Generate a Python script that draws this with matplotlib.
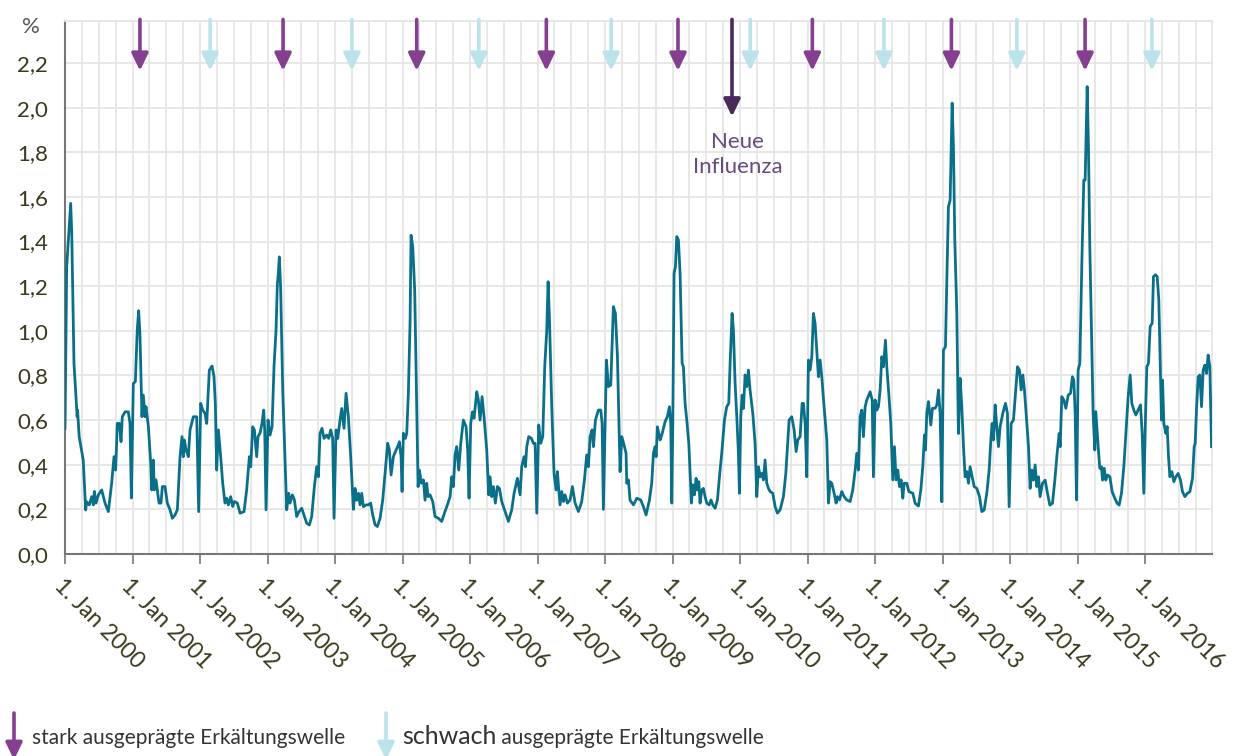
import matplotlib
matplotlib.use("Agg")
import matplotlib.pyplot as plt
from matplotlib.ticker import MultipleLocator, FixedLocator
import numpy as np

# ---------------- data (decimal years since 2000, share in %) ----------------
t_offset = [
    0.0, 0.025, 0.084, 0.10, 0.133, 0.173, 0.18, 0.186, 0.21, 0.27, 0.306, 0.321, 0.36, 0.395, 0.42, 0.435, 0.46, 0.494, 0.543, 0.593, 0.642, 0.691, 0.726, 0.75, 0.775, 0.805, 0.83, 0.849, 0.889, 0.938, 0.963, 0.983,
    1.012, 1.042, 1.07, 1.091, 1.11, 1.14, 1.16, 1.185, 1.2, 1.235, 1.27, 1.284, 1.309, 1.323, 1.348, 1.368, 1.393, 1.422, 1.442, 1.481, 1.516, 1.556, 1.59, 1.63, 1.664, 1.704, 1.733, 1.753, 1.768, 1.793, 1.827, 1.852, 1.901, 1.951, 1.98,
    2.01, 2.04, 2.074, 2.099, 2.138, 2.178, 2.207, 2.227, 2.247, 2.272, 2.306, 2.336, 2.37, 2.395, 2.42, 2.454, 2.484, 2.508, 2.553, 2.593, 2.652, 2.691, 2.731, 2.751, 2.78, 2.805, 2.839, 2.859, 2.889, 2.918, 2.943, 2.958, 2.978,
    3.007, 3.037, 3.067, 3.096, 3.126, 3.146, 3.16, 3.175, 3.195, 3.225, 3.254, 3.284, 3.314, 3.333, 3.368, 3.398, 3.432, 3.467, 3.506, 3.546, 3.58, 3.62, 3.654, 3.694, 3.728, 3.753, 3.778, 3.807, 3.837, 3.876, 3.906, 3.936, 3.965, 3.985,
    4.015, 4.04, 4.074, 4.099, 4.133, 4.163, 4.197, 4.232, 4.272, 4.296, 4.321, 4.346, 4.37, 4.395, 4.42, 4.459, 4.494, 4.528, 4.558, 4.593, 4.627, 4.667, 4.706, 4.741, 4.78, 4.805, 4.83, 4.864, 4.904, 4.938, 4.953, 4.978, 4.993,
    5.012, 5.042, 5.062, 5.086, 5.111, 5.126, 5.151, 5.18, 5.21, 5.23, 5.249, 5.279, 5.309, 5.333, 5.358, 5.378, 5.407, 5.447, 5.481, 5.531, 5.58, 5.62, 5.664, 5.704, 5.728, 5.753, 5.778, 5.802, 5.832, 5.862, 5.901, 5.941, 5.965, 5.985,
    6.01, 6.035, 6.059, 6.099, 6.123, 6.148, 6.178, 6.207, 6.247, 6.277, 6.296, 6.321, 6.346, 6.375, 6.405, 6.435, 6.469, 6.519, 6.568, 6.617, 6.652, 6.701, 6.741, 6.765, 6.8, 6.82, 6.84, 6.869, 6.909, 6.938, 6.963, 6.988,
    7.017, 7.047, 7.077, 7.106, 7.136, 7.156, 7.175, 7.21, 7.244, 7.274, 7.294, 7.314, 7.333, 7.358, 7.383, 7.407, 7.442, 7.481, 7.516, 7.556, 7.605, 7.654, 7.694, 7.728, 7.753, 7.778, 7.807, 7.827, 7.857, 7.901, 7.936, 7.956, 7.975,
    8.0, 8.02, 8.049, 8.084, 8.123, 8.153, 8.183, 8.222, 8.247, 8.281, 8.311, 8.321, 8.346, 8.37, 8.42, 8.47, 8.528, 8.568, 8.607, 8.657, 8.691, 8.716, 8.741, 8.756, 8.775, 8.815, 8.84, 8.889, 8.923, 8.953, 8.973, 8.988,
    9.003, 9.022, 9.042, 9.062, 9.086, 9.111, 9.141, 9.16, 9.185, 9.21, 9.24, 9.259, 9.279, 9.299, 9.323, 9.348, 9.368, 9.388, 9.407, 9.432, 9.457, 9.481, 9.506, 9.541, 9.57, 9.595, 9.63, 9.664, 9.694, 9.728, 9.768, 9.802, 9.832, 9.852, 9.881, 9.901, 9.926, 9.951, 9.975, 9.99,
    10.01, 10.03, 10.05, 10.074, 10.099, 10.123, 10.148, 10.188, 10.222, 10.247, 10.272, 10.296, 10.321, 10.346, 10.37, 10.395, 10.42, 10.444, 10.484, 10.519, 10.553, 10.593, 10.642, 10.677, 10.701, 10.726, 10.765, 10.8, 10.83, 10.855, 10.889, 10.919, 10.938, 10.963, 10.988,
    11.012, 11.037, 11.062, 11.086, 11.111, 11.136, 11.16, 11.185, 11.21, 11.244, 11.284, 11.309, 11.333, 11.358, 11.393, 11.422, 11.442, 11.472, 11.506, 11.541, 11.58, 11.63, 11.669, 11.704, 11.728, 11.753, 11.778, 11.802, 11.827, 11.852, 11.877, 11.926, 11.956, 11.975,
    12.0, 12.025, 12.049, 12.074, 12.099, 12.123, 12.153, 12.173, 12.202, 12.232, 12.262, 12.286, 12.311, 12.336, 12.36, 12.385, 12.41, 12.43, 12.469, 12.499, 12.558, 12.593, 12.642, 12.677, 12.706, 12.731, 12.746, 12.765, 12.79, 12.825, 12.849, 12.889, 12.914, 12.938, 12.963, 12.988,
    13.012, 13.042, 13.062, 13.086, 13.111, 13.141, 13.16, 13.18, 13.21, 13.234, 13.259, 13.284, 13.309, 13.333, 13.358, 13.383, 13.407, 13.432, 13.467, 13.506, 13.546, 13.58, 13.615, 13.654, 13.689, 13.714, 13.733, 13.753, 13.778, 13.802, 13.827, 13.852, 13.891, 13.931, 13.96, 13.985,
    14.015, 14.049, 14.079, 14.109, 14.138, 14.163, 14.188, 14.212, 14.237, 14.272, 14.296, 14.321, 14.346, 14.37, 14.395, 14.42, 14.444, 14.479, 14.519, 14.553, 14.588, 14.627, 14.662, 14.696, 14.726, 14.741, 14.765, 14.795, 14.825, 14.86, 14.894, 14.923, 14.943, 14.963, 14.983,
    15.007, 15.032, 15.062, 15.091, 15.111, 15.141, 15.16, 15.18, 15.205, 15.229, 15.254, 15.269, 15.304, 15.328, 15.353, 15.368, 15.393, 15.417, 15.442, 15.477, 15.511, 15.551, 15.585, 15.615, 15.649, 15.684, 15.714, 15.748, 15.778, 15.802, 15.832, 15.862, 15.896, 15.931, 15.956, 15.98,
    16.005, 16.025, 16.049, 16.074, 16.104, 16.123, 16.153, 16.178, 16.202, 16.227, 16.242, 16.257, 16.277, 16.306, 16.326, 16.346, 16.366, 16.395, 16.425, 16.454, 16.489, 16.523, 16.553, 16.588, 16.627, 16.662, 16.701, 16.726, 16.741, 16.76, 16.785, 16.81, 16.835, 16.859, 16.884, 16.909, 16.933, 16.958, 16.983,
]
share_pct = [
    0.563, 1.287, 1.571, 1.437, 0.854, 0.645, 0.615, 0.645, 0.526, 0.421, 0.197, 0.234, 0.22, 0.257, 0.22, 0.28, 0.228, 0.265, 0.287, 0.228, 0.19, 0.317, 0.436, 0.376, 0.585, 0.585, 0.503, 0.615, 0.637, 0.637, 0.585, 0.251,
    0.764, 0.772, 1.003, 1.09, 0.988, 0.615, 0.712, 0.615, 0.66, 0.57, 0.406, 0.287, 0.421, 0.287, 0.332, 0.287, 0.228, 0.228, 0.302, 0.302, 0.228, 0.198, 0.16, 0.175, 0.198, 0.436, 0.526, 0.436, 0.511, 0.466, 0.436, 0.556, 0.615, 0.615, 0.19,
    0.675, 0.645, 0.63, 0.585, 0.824, 0.842, 0.794, 0.675, 0.376, 0.556, 0.436, 0.317, 0.228, 0.25, 0.22, 0.257, 0.213, 0.235, 0.228, 0.183, 0.19, 0.287, 0.436, 0.391, 0.57, 0.556, 0.436, 0.526, 0.541, 0.585, 0.645, 0.556, 0.198,
    0.6, 0.533, 0.57, 0.839, 1.003, 1.212, 1.257, 1.331, 1.182, 0.734, 0.466, 0.198, 0.272, 0.228, 0.265, 0.242, 0.168, 0.19, 0.205, 0.168, 0.138, 0.13, 0.168, 0.302, 0.391, 0.346, 0.541, 0.563, 0.518, 0.533, 0.518, 0.556, 0.518, 0.16,
    0.556, 0.518, 0.6, 0.652, 0.563, 0.72, 0.615, 0.436, 0.2, 0.294, 0.241, 0.272, 0.22, 0.272, 0.212, 0.22, 0.22, 0.228, 0.175, 0.131, 0.123, 0.16, 0.241, 0.361, 0.496, 0.466, 0.354, 0.436, 0.466, 0.488, 0.503, 0.436, 0.28,
    0.541, 0.518, 0.541, 0.72, 1.034, 1.428, 1.377, 1.182, 0.66, 0.302, 0.376, 0.317, 0.332, 0.241, 0.317, 0.257, 0.265, 0.235, 0.168, 0.16, 0.146, 0.183, 0.22, 0.257, 0.346, 0.302, 0.444, 0.481, 0.376, 0.496, 0.6, 0.57, 0.466, 0.25,
    0.585, 0.637, 0.608, 0.727, 0.69, 0.6, 0.705, 0.615, 0.466, 0.265, 0.346, 0.257, 0.302, 0.228, 0.302, 0.294, 0.235, 0.19, 0.146, 0.198, 0.272, 0.339, 0.265, 0.391, 0.436, 0.391, 0.481, 0.526, 0.518, 0.496, 0.496, 0.183,
    0.578, 0.496, 0.526, 0.839, 1.003, 1.22, 1.063, 0.66, 0.361, 0.287, 0.369, 0.287, 0.22, 0.28, 0.235, 0.265, 0.228, 0.242, 0.302, 0.228, 0.19, 0.235, 0.332, 0.444, 0.391, 0.526, 0.556, 0.481, 0.6, 0.645, 0.645, 0.585, 0.2,
    0.585, 0.869, 0.75, 0.757, 1.108, 1.078, 0.884, 0.369, 0.526, 0.488, 0.451, 0.317, 0.332, 0.241, 0.22, 0.25, 0.242, 0.212, 0.175, 0.242, 0.317, 0.451, 0.481, 0.436, 0.57, 0.511, 0.533, 0.593, 0.615, 0.66, 0.585, 0.228,
    0.585, 1.257, 1.287, 1.422, 1.407, 1.257, 0.854, 0.839, 0.675, 0.6, 0.496, 0.361, 0.228, 0.31, 0.265, 0.339, 0.287, 0.324, 0.228, 0.287, 0.294, 0.257, 0.228, 0.22, 0.242, 0.22, 0.205, 0.242, 0.346, 0.451, 0.6, 0.66, 0.675, 0.854, 1.078, 1.003, 0.764, 0.615, 0.451, 0.272,
    0.615, 0.712, 0.652, 0.802, 0.75, 0.824, 0.734, 0.63, 0.496, 0.257, 0.391, 0.346, 0.361, 0.332, 0.421, 0.317, 0.294, 0.28, 0.272, 0.212, 0.183, 0.198, 0.257, 0.361, 0.481, 0.6, 0.615, 0.556, 0.459, 0.511, 0.526, 0.675, 0.675, 0.585, 0.346,
    0.869, 0.824, 0.884, 1.078, 1.033, 0.914, 0.794, 0.869, 0.794, 0.66, 0.511, 0.228, 0.324, 0.317, 0.272, 0.228, 0.257, 0.242, 0.28, 0.257, 0.242, 0.235, 0.287, 0.376, 0.451, 0.376, 0.615, 0.645, 0.526, 0.66, 0.69, 0.727, 0.69, 0.346,
    0.69, 0.645, 0.66, 0.734, 0.884, 0.839, 0.958, 0.839, 0.72, 0.585, 0.332, 0.481, 0.332, 0.376, 0.302, 0.332, 0.25, 0.317, 0.317, 0.28, 0.272, 0.227, 0.215, 0.287, 0.391, 0.533, 0.466, 0.63, 0.683, 0.578, 0.653, 0.653, 0.668, 0.735, 0.63, 0.234,
    0.914, 0.929, 1.228, 1.556, 1.586, 2.02, 1.825, 1.407, 1.079, 0.54, 0.787, 0.66, 0.481, 0.346, 0.369, 0.317, 0.391, 0.354, 0.302, 0.294, 0.257, 0.19, 0.197, 0.272, 0.376, 0.511, 0.585, 0.511, 0.668, 0.571, 0.481, 0.571, 0.63, 0.675, 0.63, 0.212,
    0.585, 0.6, 0.72, 0.839, 0.824, 0.735, 0.802, 0.735, 0.63, 0.481, 0.294, 0.376, 0.331, 0.399, 0.302, 0.346, 0.257, 0.317, 0.331, 0.272, 0.219, 0.227, 0.331, 0.451, 0.54, 0.481, 0.705, 0.69, 0.653, 0.712, 0.72, 0.794, 0.779, 0.63, 0.242,
    0.824, 0.854, 1.302, 1.675, 1.675, 2.094, 1.825, 1.377, 1.004, 0.63, 0.466, 0.638, 0.481, 0.384, 0.391, 0.331, 0.384, 0.331, 0.354, 0.346, 0.279, 0.249, 0.227, 0.219, 0.272, 0.391, 0.54, 0.705, 0.802, 0.675, 0.645, 0.623, 0.645, 0.668, 0.54, 0.272,
    0.615, 0.839, 0.854, 1.019, 1.034, 1.243, 1.251, 1.243, 1.139, 0.81, 0.6, 0.779, 0.585, 0.54, 0.571, 0.436, 0.346, 0.369, 0.324, 0.346, 0.361, 0.331, 0.279, 0.257, 0.272, 0.279, 0.339, 0.481, 0.496, 0.645, 0.794, 0.802, 0.66, 0.824, 0.846, 0.809, 0.891, 0.839, 0.481,
]
start_year = 2000
years = list(range(2000, 2017))
year_labels = [f"1. Jan {y}" for y in years]
y_ticks = [0.0, 0.2, 0.4, 0.6, 0.8, 1.0, 1.2, 1.4, 1.6, 1.8, 2.0, 2.2]
y_labels = ["0,0", "0,2", "0,4", "0,6", "0,8", "1,0", "1,2", "1,4", "1,6", "1,8", "2,0", "2,2"]
strong_waves = [2001.11, 2003.23, 2005.21, 2007.13, 2009.08, 2011.07, 2013.13, 2015.11]
weak_waves = [2002.15, 2004.25, 2006.13, 2008.09, 2010.15, 2012.13, 2014.10, 2016.10]
new_influenza = 2009.88
new_influenza_label = "Neue\nInfluenza"
legend_strong = "stark ausgeprägte Erkältungswelle"
legend_weak_big = "schwach"
legend_weak_rest = " ausgeprägte Erkältungswelle"

assert len(t_offset) == len(share_pct), (len(t_offset), len(share_pct))

# ---------------- style ----------------
plt.rcParams["font.family"] = ["Lato", "DejaVu Sans"]
LINE = "#0A7089"
STRONG = "#843F91"
WEAK = "#BDE3EA"
DARK = "#4A2A5A"
TXT = "#3A391B"
GRID = "#E6E6E6"
W, H = 1243, 756
ARROWSTYLE = "-|>,head_width=0.25,head_length=0.52"

fig = plt.figure(figsize=(W / 100, H / 100), dpi=100)
ax = fig.add_axes([65 / W, (H - 554) / H, (1212 - 65) / W, (554 - 21) / H])

x = np.array(t_offset) + start_year
ax.plot(x, share_pct, color=LINE, lw=2.0, solid_joinstyle="round", zorder=3)

ax.set_xlim(2000, 2016.99)
ax.set_ylim(0, 2.388)

ax.xaxis.set_major_locator(FixedLocator(years))
ax.xaxis.set_minor_locator(MultipleLocator(0.25))
ax.set_yticks(y_ticks)
ax.set_yticklabels(y_labels)
ax.yaxis.set_minor_locator(FixedLocator([2.388]))
ax.grid(which="both", color=GRID, lw=1.3, zorder=0)
ax.set_axisbelow(True)

ax.set_xticklabels(year_labels, rotation=-45, ha="left", va="top",
                   rotation_mode="anchor", fontsize=16.5, color=TXT)
ax.tick_params(axis="x", which="major", length=7, width=1.2, color="#777777", pad=8)
ax.tick_params(axis="x", which="minor", length=0)
ax.tick_params(axis="y", which="both", length=0, pad=12, labelsize=16, labelcolor=TXT)

for s in ["top", "right"]:
    ax.spines[s].set_color(GRID)
    ax.spines[s].set_linewidth(1.3)
for s in ["left", "bottom"]:
    ax.spines[s].set_color("#777777")
    ax.spines[s].set_linewidth(1.5)

ax.text(2000 - 34 / 67.5, 2.36, "%", fontsize=16, color="#555555",
        ha="center", va="center", clip_on=False)

def arrow(xv, ytip, color, ytop=2.395):
    ax.annotate("", xy=(xv, ytip), xytext=(xv, ytop),
                arrowprops=dict(arrowstyle=ARROWSTYLE, color=color, lw=2.6,
                                shrinkA=0, shrinkB=0, mutation_scale=20),
                annotation_clip=False, zorder=4)

for xv in strong_waves:
    arrow(xv, 2.165, STRONG)
for xv in weak_waves:
    arrow(xv, 2.165, WEAK)
arrow(new_influenza, 1.96, DARK)
ax.text(new_influenza + 0.08, 1.79, new_influenza_label, ha="center", va="center",
        fontsize=16, color="#684A7C", linespacing=1.35)

# legend at the bottom
def fig_arrow(xp, color):
    fig.patches.append(matplotlib.patches.FancyArrowPatch(
        (xp / W, (H - 713) / H), (xp / W, (H - 760) / H), transform=fig.transFigure,
        arrowstyle=ARROWSTYLE, mutation_scale=20,
        color=color, lw=2.6, shrinkA=0, shrinkB=0))

fig_arrow(14, STRONG)
fig_arrow(386, WEAK)
fig.text(32 / W, (H - 738) / H, legend_strong, fontsize=15, color="#333333", va="center")
t1 = fig.text(402 / W, (H - 737) / H, legend_weak_big, fontsize=18, color="#333333", va="center")
fig.canvas.draw()
bb = t1.get_window_extent()
fig.text(bb.x1 / W, (H - 738) / H, legend_weak_rest, fontsize=15, color="#333333", va="center")

fig.savefig("out.png", dpi=100)
